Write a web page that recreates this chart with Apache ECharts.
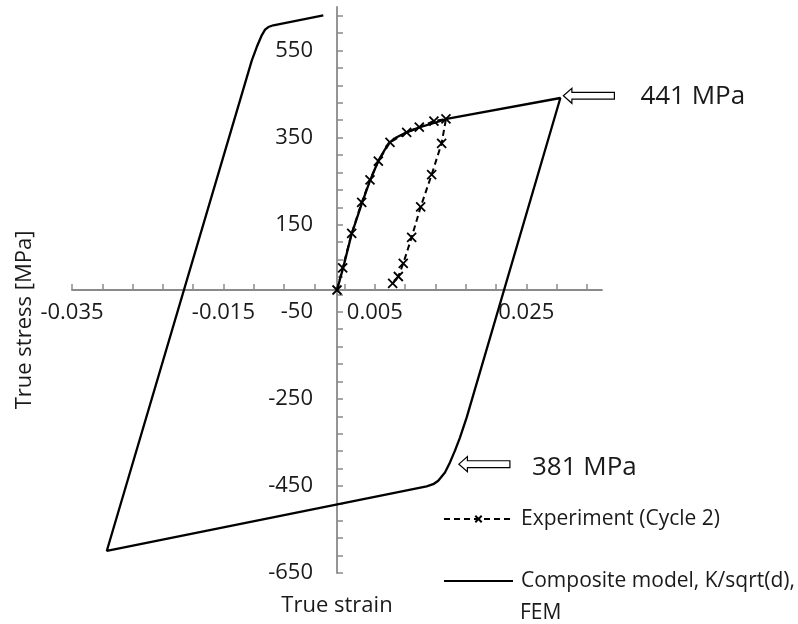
<!DOCTYPE html>
<html><head><meta charset="utf-8">
<script src="https://cdn.jsdelivr.net/npm/echarts@6/dist/echarts.min.js"></script>
<style>html,body{margin:0;padding:0;background:#fff}#c{width:798px;height:624px}</style>
</head><body><div id="c"></div>
<script>
// ---- data ----
const xTickLabels = ['-0.035', '-0.015', '0.005', '0.025'];
const yTickLabels = ['-650', '-450', '-250', '-50', '150', '350', '550'];
const experimentName = 'Experiment (Cycle 2)';
const compositeName = 'Composite model, K/sqrt(d), FEM';
const experiment = [
  [0, 0], [0.00075, 51], [0.00194, 130], [0.00326, 201], [0.00436, 253], [0.00546, 296],
  [0.0070, 339], [0.0092, 362], [0.01087, 374], [0.0128, 388], [0.01439, 393],
  [0.01382, 337], [0.0125, 265], [0.01105, 191], [0.00986, 121], [0.00875, 61],
  [0.0081, 31], [0.00735, 15]
];
const composite = [
  [0, 0], [0.00083, 52], [0.00194, 129], [0.00326, 198], [0.00436, 251], [0.00546, 297],
  [0.00678, 336], [0.00788, 351], [0.0092, 362], [0.01096, 374], [0.01272, 383], [0.01448, 393],
  [0.0295, 441],
  [0.01712, -293], [0.01624, -339], [0.01558, -369], [0.01492, -396], [0.01426, -419],
  [0.01337, -438], [0.01271, -446], [0.01184, -451],
  [-0.0304, -599],
  [-0.01126, 527], [-0.0106, 558], [-0.00994, 585], [-0.0095, 598], [-0.00907, 604],
  [-0.00841, 608], [-0.00181, 631]
];
const annotationTexts = ['441 MPa', '381 MPa'];
const annotationPoints = [[0.0299, 446], [0.0161, -400]];

// ---- chart ----
const FONT = "'Open Sans', sans-serif";
const AX = '#8a8a8a';
const TXT = '#1a1a1a';
const xMin = -0.035, xMax = 0.035, xStep = 0.004;
const yMin = -650, yMax = 650, yStep = 40;
const GRID = { left: 72, right: 196, top: 7, bottom: 51 };

// tick mark positions (minor ticks every step, starting at min, none at the open max end)
const xTickValues = [];
for (let k = 0; xMin + k * xStep < xMax - 1e-9; k++) xTickValues.push(+(xMin + k * xStep).toFixed(4));
const yTickValues = [];
for (let k = 0; yMin + k * yStep < yMax - 1e-9; k++) yTickValues.push(yMin + k * yStep);
const xLabelValues = xTickLabels.map(Number);
const yLabelValues = yTickLabels.map(Number);

function xFmt(v) {
  const i = xLabelValues.findIndex(function (t) { return Math.abs(t - v) < 1e-7; });
  return i >= 0 ? xTickLabels[i] : '';
}
function yFmt(v) {
  const i = yLabelValues.findIndex(function (t) { return Math.abs(t - v) < 1e-6; });
  return i >= 0 ? yTickLabels[i] : '';
}

const labelStyle = { fontSize: 22, color: TXT, fontFamily: FONT };
const xSymbol = 'path://M0,0L10,10M10,0L0,10';
const chart = echarts.init(document.getElementById('c'));

const option = {
  animation: false,
  backgroundColor: '#fff',
  grid: Object.assign({ containLabel: false, outerBoundsMode: 'none' }, GRID),
  xAxis: [
    {
      type: 'value', min: xMin, max: xMax, interval: xStep,
      axisLine: { onZero: true, lineStyle: { color: AX, width: 1.8 } },
      axisTick: { show: true, inside: true, length: 6, customValues: xTickValues, lineStyle: { color: AX, width: 1.5 } },
      axisLabel: { show: false },
      splitLine: { show: false },
      name: 'True strain', nameLocation: 'middle', nameGap: 22, nameMoveOverlap: false,
      nameTextStyle: labelStyle
    },
    {
      type: 'value', position: 'bottom', min: xMin, max: xMax, interval: xStep, offset: 0,
      axisLine: { show: false, onZero: false }, axisTick: { show: false }, splitLine: { show: false },
      axisLabel: Object.assign({ formatter: xFmt, margin: 12, customValues: xLabelValues }, labelStyle)
    }
  ],
  yAxis: [
    {
      type: 'value', min: yMin, max: yMax, interval: yStep,
      axisLine: { onZero: true, lineStyle: { color: AX, width: 1.8 } },
      axisTick: { show: true, inside: true, length: 6, customValues: yTickValues, lineStyle: { color: AX, width: 1.5 } },
      axisLabel: { show: false },
      splitLine: { show: false },
      name: 'True stress [MPa]', nameLocation: 'middle', nameGap: 36, nameRotate: 90, nameMoveOverlap: false,
      nameTextStyle: Object.assign({ padding: [0, 60, 0, 0] }, labelStyle)
    },
    {
      type: 'value', position: 'left', min: yMin, max: yMax, interval: yStep, offset: 0,
      axisLine: { show: false, onZero: false }, axisTick: { show: false }, splitLine: { show: false },
      axisLabel: Object.assign({ formatter: yFmt, margin: 24, customValues: yLabelValues }, labelStyle)
    }
  ],
  legend: {
    orient: 'vertical', left: 443, top: 505, padding: 0, itemWidth: 69, itemHeight: 8, itemGap: 34,
    selectedMode: false,
    textStyle: { fontSize: 21, lineHeight: 28, color: TXT, fontFamily: FONT, padding: [0, 0, 0, 3] },
    formatter: function (n) { return n === compositeName ? 'Composite model, K/sqrt(d),' : n; },
    data: [
      { name: experimentName },
      { name: compositeName, itemStyle: { opacity: 0 } }
    ]
  },
  series: [
    {
      name: compositeName, type: 'line', data: composite, showSymbol: false, symbol: 'none',
      lineStyle: { color: '#000', width: 2.3 }, itemStyle: { color: '#000' },
      emphasis: { disabled: true }, z: 2
    },
    {
      name: experimentName, type: 'line', data: experiment,
      symbol: xSymbol, symbolSize: 9,
      lineStyle: { color: '#000', width: 2, type: [6, 4] },
      itemStyle: { color: '#000', borderColor: '#000', borderWidth: 1.8 },
      emphasis: { disabled: true }, z: 3
    }
  ]
};
chart.setOption(option);

// move the label-only axes onto the zero lines
const origin = chart.convertToPixel({ gridIndex: 0 }, [0, 0]);
const gridBottomPx = 624 - GRID.bottom;
chart.setOption({
  xAxis: [{}, { offset: -(gridBottomPx - origin[1]) }],
  yAxis: [{}, { offset: -(origin[0] - GRID.left) }]
});

// annotations placed from data coordinates
const g = [];
annotationPoints.forEach(function (pt, i) {
  const p = chart.convertToPixel({ gridIndex: 0 }, pt);
  g.push({
    type: 'polygon', x: p[0], y: p[1], z: 10,
    shape: { points: [[0, 0], [8.5, -7.5], [8.5, -3.4], [51, -3.4], [51, 3.4], [8.5, 3.4], [8.5, 7.5]] },
    style: { fill: '#fff', stroke: '#000', lineWidth: 1.2 }
  });
  g.push({
    type: 'text', x: p[0] + (i === 0 ? 77 : 73), y: p[1] + (i === 0 ? 1 : 3), z: 10,
    style: { text: annotationTexts[i], fontSize: 26, fontFamily: FONT, fill: TXT, verticalAlign: 'middle', align: 'left' }
  });
});
g.push({
  type: 'text', left: 520, top: 603, z: 10,
  style: { text: 'FEM', fontSize: 21, fontFamily: FONT, fill: TXT }
});
chart.setOption({ graphic: g });
</script>
</body></html>
